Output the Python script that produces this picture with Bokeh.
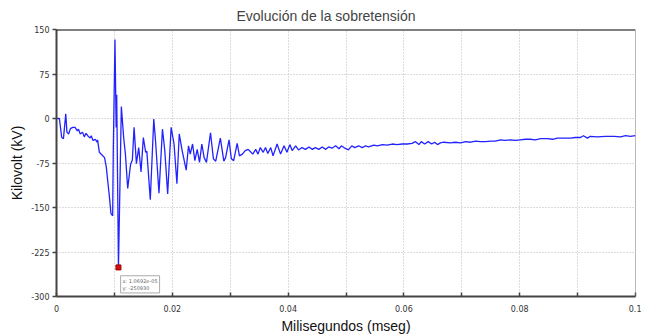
from bokeh.plotting import figure
from bokeh.models import FixedTicker, Span, Label
from bokeh.embed import file_html
from bokeh.resources import INLINE

# time in ms, voltage in kV
t_ms = [0.0000, 0.0005, 0.0009, 0.0012, 0.0016, 0.0018, 0.0021, 0.0024, 0.0028, 0.0032,
        0.0036, 0.0038, 0.0041, 0.0045, 0.0048, 0.0051, 0.0054, 0.0058, 0.0060, 0.0063,
        0.0067, 0.0070, 0.0071, 0.0074, 0.0079, 0.0083, 0.0086, 0.0089, 0.0092, 0.0094,
        0.0097, 0.0098, 0.0101, 0.0103, 0.0104, 0.0107, 0.0112, 0.0116, 0.0119, 0.0123,
        0.0128, 0.0131, 0.0134, 0.0138, 0.0142, 0.0146, 0.0150, 0.0154, 0.0156, 0.0162,
        0.0168, 0.0171, 0.0177, 0.0183, 0.0187, 0.0192, 0.0198, 0.0203, 0.0208, 0.0212,
        0.0217, 0.0224, 0.0228, 0.0231, 0.0235, 0.0239, 0.0243, 0.0247, 0.0251, 0.0255,
        0.0259, 0.0266, 0.0271, 0.0275, 0.0283, 0.0289, 0.0292, 0.0298, 0.0302, 0.0306,
        0.0312, 0.0316, 0.0321, 0.0326, 0.0331, 0.0335, 0.0339, 0.0344, 0.0348, 0.0352,
        0.0357, 0.0361, 0.0365, 0.0370, 0.0374, 0.0381, 0.0387, 0.0393, 0.0398, 0.0403,
        0.0407, 0.0413, 0.0418, 0.0424, 0.0430, 0.0436, 0.0442, 0.0447, 0.0453, 0.0459,
        0.0465, 0.0470, 0.0476, 0.0482, 0.0488, 0.0492, 0.0498, 0.0504, 0.0510, 0.0515,
        0.0522, 0.0528, 0.0534, 0.0539, 0.0548, 0.0554, 0.0563, 0.0571, 0.0580, 0.0588,
        0.0597, 0.0606, 0.0614, 0.0620, 0.0626, 0.0630, 0.0636, 0.0642, 0.0648, 0.0653,
        0.0658, 0.0663, 0.0669, 0.0680, 0.0689, 0.0698, 0.0706, 0.0715, 0.0724, 0.0732,
        0.0741, 0.0750, 0.0758, 0.0767, 0.0775, 0.0784, 0.0793, 0.0801, 0.0810, 0.0818,
        0.0827, 0.0836, 0.0847, 0.0857, 0.0865, 0.0876, 0.0888, 0.0896, 0.0905, 0.0910,
        0.0917, 0.0922, 0.0934, 0.0948, 0.0963, 0.0974, 0.0983, 0.0991, 0.1000]
kv = [0, 0, -32, -34, 8, -23, -26, -17, -15, -15,
      -21, -18, -26, -23, -31, -25, -29, -33, -29, -37,
      -35, -40, -36, -57, -62, -66, -82, -110, -138, -160,
      -164, -60, 133, -15, 40, -251, 20, -32, -60, -118,
      -77, -70, -15, -76, -49, -90, -32, -57, -55, -137,
      -1, -37, -126, -18, -54, -127, -15, -43, -110, -26,
      -54, -87, -46, -60, -43, -71, -52, -74, -43, -66,
      -74, -24, -68, -72, -33, -72, -66, -36, -68, -71,
      -42, -63, -60, -54, -52, -56, -60, -52, -60, -49,
      -57, -49, -59, -49, -63, -43, -60, -46, -57, -44,
      -54, -46, -53, -49, -52, -48, -52, -49, -52, -48,
      -52, -48, -50, -46, -51, -46, -50, -53, -46, -49,
      -46, -49, -46, -48, -45, -46, -44, -45, -43, -44,
      -43, -43, -42, -39, -44, -39, -43, -39, -43, -40,
      -44, -41, -40, -41, -40, -41, -39, -40, -38, -39,
      -39, -38, -38, -36, -37, -36, -37, -36, -35, -35,
      -36, -34, -34, -35, -33, -33, -33, -32, -32, -29,
      -33, -30, -31, -30, -30, -31, -29, -30, -29]

marker_t = [0.0107]
marker_kv = [-251]
x_ticks = [0, 0.01, 0.02, 0.03, 0.04, 0.05, 0.06, 0.07, 0.08, 0.09, 0.1]
x_labels = ["0", "", "0.02", "", "0.04", "", "0.06", "", "0.08", "", "0.1"]
y_ticks = [-300, -225, -150, -75, 0, 75, 150]
y_labels = ["-300", "-225", "-150", "-75", "0", "75", "150"]

p = figure(width=641, height=336, output_backend="svg", toolbar_location=None,
           x_range=(0, 0.1), y_range=(-300, 150),
           title="Evolución de la sobretensión",
           min_border_left=56, min_border_right=6, min_border_top=29, min_border_bottom=40)

p.title.align = "left"
p.title.offset = 180
p.title.text_font = "Liberation Sans"
p.title.text_font_size = "14px"
p.title.text_font_style = "normal"
p.title.standoff = 11

p.outline_line_color = None
p.background_fill_color = "white"

p.xaxis.ticker = FixedTicker(ticks=x_ticks)
p.xaxis.major_label_overrides = {t: l for t, l in zip(x_ticks, x_labels)}
p.yaxis.ticker = FixedTicker(ticks=y_ticks)
p.yaxis.major_label_overrides = {t: l for t, l in zip(y_ticks, y_labels)}

for ax in (p.xaxis[0], p.yaxis[0]):
    ax.major_label_text_font = "DejaVu Sans"
    ax.major_label_text_font_size = "8px"
    ax.major_label_text_color = "#333333"
    ax.axis_label_text_font = "Liberation Sans"
    ax.axis_label_text_font_size = "14px"
    ax.axis_label_text_font_style = "normal"
    ax.axis_label_text_color = "#111111"
    ax.minor_tick_line_color = None
    ax.axis_line_color = "#444444"
    ax.axis_line_width = 2
    ax.major_tick_line_color = "#444444"
    ax.major_tick_line_width = 1.5

p.xaxis.axis_label = "Milisegundos (mseg)"
p.yaxis.axis_label = "Kilovolt (kV)"
p.xaxis.major_tick_in = 4
p.xaxis.major_tick_out = 0
p.xaxis.major_label_standoff = 8
p.xaxis.axis_label_standoff = 3
p.yaxis.major_tick_in = 0
p.yaxis.major_tick_out = 4
p.yaxis.major_label_standoff = 3
p.yaxis.axis_label_standoff = 3

p.grid.grid_line_color = "#b8b8b8"
p.grid.grid_line_dash = "1 2"
p.grid.grid_line_width = 1

p.add_layout(Span(location=150, dimension="width", line_color="black", line_width=2))
p.add_layout(Span(location=0.1, dimension="height", line_color="#777777", line_width=1))

p.line(t_ms, kv, line_color="#2222ff", line_width=1.3)
p.scatter(marker_t, marker_kv, marker="square", size=5, fill_color="#d01010",
          line_color="#a00000")

p.add_layout(Label(x=0.0109, y=-262, text="x: 1.0692e-05\ny: -250930",
                   text_font="DejaVu Sans", text_font_size="5px", text_color="#666666",
                   x_offset=1, y_offset=-19,
                   border_line_color="#aaaaaa", background_fill_color="white",
                   padding=2))

open("out.html", "w").write(file_html(p, INLINE))
